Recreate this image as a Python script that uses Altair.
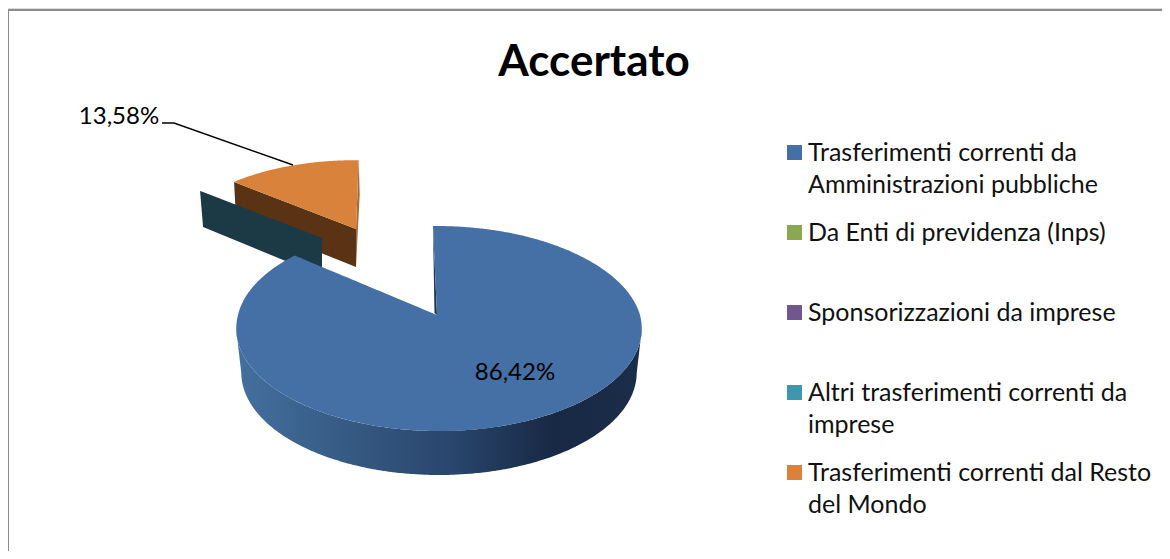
import json
import numpy as np
import pandas as pd
import altair as alt

# ---------- chart values ----------
TITLE = "Accertato"
SERIES = [
    "Trasferimenti correnti da Amministrazioni pubbliche",
    "Da Enti di previdenza (Inps)",
    "Sponsorizzazioni da imprese",
    "Altri trasferimenti correnti da imprese",
    "Trasferimenti correnti dal Resto del Mondo",
]
SHARES = [86.42, 0.0, 0.0, 0.0, 13.58]
COLORS = ["#4570A6", "#8AA84F", "#70578F", "#3F97AD", "#D9823B"]
LABEL_LINES = {
    SERIES[0]: ["Trasferimenti correnti da", "Amministrazioni pubbliche"],
    SERIES[1]: ["Da Enti di previdenza (Inps)"],
    SERIES[2]: ["Sponsorizzazioni da imprese"],
    SERIES[3]: ["Altri trasferimenti correnti da", "imprese"],
    SERIES[4]: ["Trasferimenti correnti dal Resto", "del Mondo"],
}

# ---------- layout / 3-D view ----------
W, H = 1154, 543
FONT = "Lato"
START = -1.3           # first slice angle, degrees clockwise from 12 o'clock
PERSP = 0.132
DROP = 44
BLUE = dict(cx=437.0, cy=315.0, a=201.0, b=100.7, bump=2.0)
ORANGE = dict(cx=356.0, cy=229.0, a=175.6, b=77.9, bump=0.0)
TEAL = dict(cx=322.0, cy=238.0, a=175.6, b=77.9, bump=0.0)
EXPLODED_ROT = 1.2


def proj(view, deg, a_scale=1.0, drop=0.0):
    t = np.radians(deg)
    s = -np.cos(t)
    f = 1.0 / (1.0 - PERSP * s)
    shift = view["bump"] * float(np.clip((s + 0.66) / 0.66, 0, 1))
    return (view["cx"] + shift + view["a"] * a_scale * np.sin(t) * f,
            view["cy"] + view["b"] * s * f + drop)


def arc(view, d0, d1, a_scale=1.0, drop=0.0, n=160):
    return [proj(view, d, a_scale, drop) for d in np.linspace(d0, d1, n)]


def to_area(points):
    """Turn a polygon into x / y / y2 rows for an area mark."""
    pts = list(points)
    xs = sorted({round(float(p[0]), 3) for p in pts})
    rows = []
    for x in xs:
        ys = []
        for (x1, y1), (x2, y2) in zip(pts, pts[1:] + pts[:1]):
            lo, hi = min(x1, x2), max(x1, x2)
            if lo - 1e-3 <= x <= hi + 1e-3:
                if abs(x2 - x1) < 1e-6:
                    ys += [y1, y2]
                else:
                    ys.append(y1 + (y2 - y1) * (x - x1) / (x2 - x1))
        if ys:
            rows.append({"x": x, "y": float(min(ys)), "y2": float(max(ys))})
    return pd.DataFrame(rows)


END = START + SHARES[0] * 3.6
O_END = END + EXPLODED_ROT
O_FAR = START + 360 + 2.3
apex = (BLUE["cx"], BLUE["cy"])
o_apex = (ORANGE["cx"], ORANGE["cy"])
t_apex = (TEAL["cx"], TEAL["cy"])

top_a = to_area([apex] + arc(BLUE, START, 180))
top_a["series"], top_a["part"] = SERIES[0], "a"
top_b = to_area([apex] + arc(BLUE, 165, END))
top_b["series"], top_b["part"] = SERIES[0], "b"
o_top = to_area([o_apex] + arc(ORANGE, O_END, O_FAR))
o_top["series"], o_top["part"] = SERIES[4], "c"
tops = pd.concat([top_a, top_b, o_top])

side = to_area(arc(BLUE, 98, 262) + arc(BLUE, 262, 98, 0.975, DROP))
start_pt = proj(BLUE, START)
sliver = to_area([start_pt, apex, (apex[0] - 2.5, apex[1] - 2)])
o_end = proj(ORANGE, O_END)
o_far = proj(ORANGE, O_FAR)
o_wall = to_area([o_end, o_apex, (o_apex[0], o_apex[1] + 38), (o_end[0] + 2, o_end[1] + 37)])
o_side = to_area([o_far, o_apex, (o_apex[0], o_apex[1] + 38), (o_far[0] + 1, o_far[1] + 34)])
t_end = proj(TEAL, O_END)
t_wall = to_area([t_end, t_apex, (t_apex[0], t_apex[1] + 38), (t_end[0] + 3, t_end[1] + 36)])

X = alt.X("x:Q", scale=alt.Scale(domain=[8, 8 + W], range=[0, W], nice=False, zero=False), axis=None)
Y = alt.Y("y:Q", scale=alt.Scale(domain=[8 + H, 8], nice=False, zero=False), axis=None)
Y2 = alt.Y2("y2:Q")


def wall(df, fill):
    return alt.Chart(df).mark_area(color=fill, interpolate="linear").encode(x=X, y=Y, y2=Y2)


side_fill = alt.Gradient(
    gradient="linear", x1=0, x2=1, y1=0, y2=0,
    stops=[
        alt.GradientStop(offset=0.0, color="#44709E"),
        alt.GradientStop(offset=0.25, color="#375C86"),
        alt.GradientStop(offset=0.55, color="#28446A"),
        alt.GradientStop(offset=0.78, color="#182944"),
        alt.GradientStop(offset=1.0, color="#1A2D49"),
    ],
)

label_expr = json.dumps(LABEL_LINES, ensure_ascii=False) + "[datum.label]"

top_layer = (
    alt.Chart(tops)
    .mark_area(interpolate="linear")
    .encode(
        x=X, y=Y, y2=Y2, detail="part:N",
        color=alt.Color(
            "series:N",
            scale=alt.Scale(domain=SERIES, range=COLORS),
            sort=SERIES,
            legend=alt.Legend(
                title=None, orient="none", legendX=774, legendY=132,
                direction="vertical", columns=1,
                symbolType="square", symbolSize=225, symbolStrokeWidth=0, symbolOpacity=1,
                labelFont=FONT, labelFontSize=25, labelColor="#111111",
                labelLimit=500, labelOffset=1,
                labelBaseline="middle", gridAlign="all", rowPadding=22,
                labelExpr=label_expr, values=SERIES,
            ),
        ),
    )
)

leader = pd.DataFrame({"x": [162, 174, 293], "y": [123, 123, 165]})
leader_layer = alt.Chart(leader).mark_line(color="#000000", strokeWidth=1.5).encode(x=X, y=Y, order=alt.Order("x:Q"))

labels = pd.DataFrame({
    "x": [515, 119], "y": [373, 117],
    "t": [f"{SHARES[0]:.2f}%".replace(".", ","), f"{SHARES[4]:.2f}%".replace(".", ",")],
})
label_layer = (
    alt.Chart(labels)
    .mark_text(font=FONT, fontSize=24, color="#000000", align="center", baseline="middle")
    .encode(x=X, y=Y, text="t:N")
)

title_layer = (
    alt.Chart(pd.DataFrame({"x": [594], "y": [63], "t": [TITLE]}))
    .mark_text(font=FONT, fontSize=44, fontWeight="bold", color="#000000", align="center", baseline="middle")
    .encode(x=X, y=Y, text="t:N")
)

border_v = alt.Chart(pd.DataFrame({"x": [8], "y": [10], "y2": [8 + H]})).mark_rule(color="#8C8C8C", strokeWidth=2).encode(x=X, y=Y, y2=Y2)
border_h = alt.Chart(pd.DataFrame({"x": [8], "x2": [8 + W], "y": [10]})).mark_rule(color="#8C8C8C", strokeWidth=2).encode(x=X, x2="x2:Q", y=Y)

chart = (
    alt.layer(
        border_v, border_h,
        wall(o_wall, "#5A3315"),
        wall(o_side, "#A56C38"),
        wall(t_wall, "#1B3A46"),
        alt.Chart(side).mark_area(color=side_fill, interpolate="linear").encode(x=X, y=Y, y2=Y2),
        wall(sliver, "#1E3454"),
        top_layer,
        leader_layer,
        label_layer,
        title_layer,
    )
    .properties(width=W, height=H, autosize="none", padding=0, background="#FFFFFF")
    .configure_view(stroke=None)
    .configure(style={"guide-label": {"lineHeight": 32}})
)

chart.save("out.html", embed_options={"renderer": "svg", "actions": False})
